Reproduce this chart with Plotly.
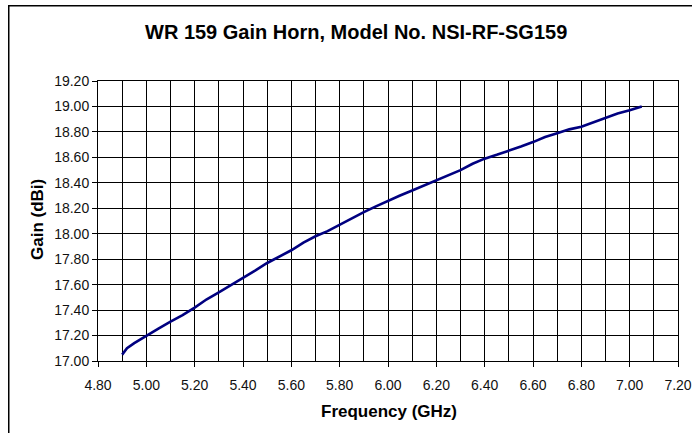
import plotly.graph_objects as go

freq_ghz = [4.90, 4.92, 4.95, 5.00, 5.05, 5.10, 5.15, 5.20, 5.25, 5.30, 5.35, 5.40,
            5.45, 5.50, 5.55, 5.60, 5.65, 5.70, 5.75, 5.80, 5.85, 5.90, 5.95, 6.00,
            6.05, 6.10, 6.15, 6.20, 6.25, 6.30, 6.35, 6.40, 6.45, 6.50, 6.55, 6.60,
            6.65, 6.70, 6.75, 6.80, 6.85, 6.90, 6.95, 7.00, 7.05]
gain_dbi = [17.05, 17.10, 17.14, 17.20, 17.255, 17.31, 17.36, 17.42, 17.485, 17.54, 17.595, 17.65,
            17.71, 17.77, 17.82, 17.87, 17.93, 17.98, 18.02, 18.07, 18.125, 18.17, 18.215, 18.26,
            18.30, 18.34, 18.38, 18.42, 18.465, 18.50, 18.55, 18.59, 18.62, 18.65, 18.685, 18.72,
            18.76, 18.79, 18.82, 18.84, 18.875, 18.91, 18.945, 18.97, 19.00]

title_text = "WR 159 Gain Horn, Model No. NSI-RF-SG159"
x_title = "Frequency (GHz)"
y_title = "Gain (dBi)"

W, H = 692, 433
PL, PR, PT, PB = 98, 678, 81, 361   # plot area in page pixels
L, R, T, B = PL, W - PR, PT, H - PB
pw, ph = W - L - R, H - T - B

def px(xp):
    return (xp - L) / pw

def py(yp):
    return (H - B - yp) / ph

fig = go.Figure()
fig.add_trace(go.Scatter(x=freq_ghz, y=gain_dbi, mode="lines",
                         line=dict(color="#000080", width=2.6), showlegend=False))

font_main = "Liberation Sans, Arial, sans-serif"

fig.update_layout(
    width=W, height=H,
    margin=dict(l=L, r=R, t=T, b=B, autoexpand=False),
    paper_bgcolor="white", plot_bgcolor="white",
    font=dict(family=font_main, color="black", size=14),
    xaxis=dict(range=[4.80, 7.20], dtick=0.2, tick0=4.8, tickformat=".2f",
               showgrid=True, gridcolor="black", gridwidth=1,
               minor=dict(dtick=0.1, showgrid=True, gridcolor="black", gridwidth=1, ticks=""),
               ticks="outside", ticklen=5, tickcolor="black", ticklabelstandoff=6,
               ticklabeloverflow="allow",
               showline=True, linecolor="black", linewidth=1, mirror=True,
               zeroline=False, automargin=False, tickfont=dict(size=14, color="#111")),
    yaxis=dict(range=[17.00, 19.20], dtick=0.2, tick0=17.0, tickformat=".2f",
               showgrid=True, gridcolor="black", gridwidth=1,
               ticks="outside", ticklen=5, tickcolor="black",
               showline=True, linecolor="black", linewidth=1, mirror=True,
               zeroline=False, automargin=False, tickfont=dict(size=14, color="#111")),
)

fig.add_annotation(text="<b>" + title_text + "</b>", xref="paper", yref="paper",
                   x=px(356), y=py(32), showarrow=False, xanchor="center", yanchor="middle",
                   font=dict(size=20, family=font_main, color="black"))
fig.add_annotation(text="<b>" + x_title + "</b>", xref="paper", yref="paper",
                   x=px(389), y=py(411), showarrow=False, xanchor="center", yanchor="middle",
                   font=dict(size=17, family=font_main, color="black"))
fig.add_annotation(text="<b>" + y_title + "</b>", xref="paper", yref="paper",
                   x=px(37), y=py(220), showarrow=False, textangle=-90,
                   xanchor="center", yanchor="middle",
                   font=dict(size=17, family=font_main, color="black"))

fig.add_shape(type="rect", xref="paper", yref="paper",
              x0=px(8.75), x1=px(760), y0=py(520), y1=py(5.75),
              line=dict(color="black", width=1.5), fillcolor="rgba(0,0,0,0)", layer="below")

fig.write_html("out.html", default_width=f"{W}px", default_height=f"{H}px",
               config={"displayModeBar": False},
               post_script="document.body.style.margin='0';document.body.style.overflow='hidden';")
